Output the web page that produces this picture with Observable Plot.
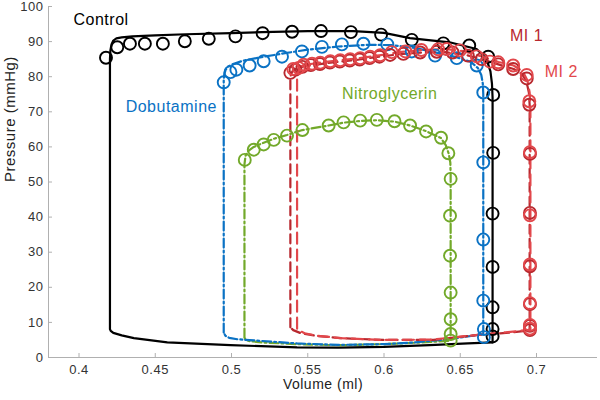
<!DOCTYPE html>
<html>
<head>
<meta charset="utf-8">
<script src="https://cdn.jsdelivr.net/npm/d3@7"></script>
<script src="https://cdn.jsdelivr.net/npm/@observablehq/plot@0.6"></script>
<style>
  html, body { margin: 0; padding: 0; background: #fff; }
  #chart svg { display: block; font-family: "Liberation Sans", Arial, Helvetica, sans-serif; }
</style>
</head>
<body>
<div id="chart"></div>
<script>
// ---- Tick values ----
const xTicks = [0.4, 0.45, 0.5, 0.55, 0.6, 0.65, 0.7];
const yTicks = [0, 10, 20, 30, 40, 50, 60, 70, 80, 90, 100];

// ---- Series names / colours ----
const seriesNames = ["Control", "Dobutamine", "Nitroglycerin", "MI 1", "MI 2"];
const seriesColors = ["#000000", "#0a72c4", "#72a92a", "#b8282e", "#e2474b"];

// ---- Model loops (lines) ----
const controlLineV = [0.4203,0.4203,0.4206,0.4213,0.4225,0.4245,0.428,0.435,0.45,0.47,0.5,0.52,0.55,0.58,0.6,0.617,0.643,0.6607,0.6672,0.6698,0.6708,0.6712,0.6712,0.655,0.63,0.6,0.57,0.543,0.4993,0.4579,0.436,0.428,0.4225,0.4208,0.4203];
const controlLineP = [8.1,85,87.5,89.2,90.3,90.9,91.2,91.5,91.8,92.1,92.4,92.7,93.0,93.0,92.5,91.0,89.8,87.9,85.1,81.5,78,74,4.3,4.0,3.5,3.0,2.8,2.9,3.5,4.3,5.5,6.3,7.0,7.6,8.1];

const dobuLineV = [0.4949,0.4949,0.4953,0.4962,0.4978,0.5015,0.508,0.52,0.535,0.55,0.57,0.59,0.605,0.62,0.635,0.648,0.657,0.6615,0.6638,0.6648,0.6651,0.6651,0.652,0.637,0.62,0.6,0.57,0.543,0.5168,0.5037,0.4985,0.496,0.4949];
const dobuLineP = [7.1,79,80.8,82.0,82.9,83.7,84.6,85.6,86.7,87.7,88.6,89.1,89.0,88.2,86.8,85.5,84.2,82.5,80.5,78,75,6.7,5.8,5.0,4.3,3.8,3.6,4.0,4.8,5.2,5.6,6.2,7.1];

const nitroLineV = [0.5085,0.5085,0.5092,0.5115,0.5146,0.5211,0.5277,0.5364,0.5465,0.5637,0.5735,0.5844,0.5953,0.6069,0.6171,0.6276,0.6374,0.6405,0.6425,0.6435,0.6437,0.6437,0.625,0.6,0.57,0.543,0.52,0.5115,0.5092,0.5085];
const nitroLineP = [5.7,55,57.5,59.0,60.0,61.2,62.3,63.4,64.8,66.1,66.9,67.4,67.6,67.2,66.1,64.5,62.5,60.5,58,55.5,52,4.8,4.3,3.8,3.5,3.8,4.3,4.7,5.1,5.7];

const mi1LineV = [0.5386,0.5386,0.539,0.5402,0.5425,0.548,0.558,0.571,0.584,0.597,0.61,0.625,0.64,0.652,0.664,0.675,0.685,0.6905,0.6935,0.695,0.6955,0.6955,0.6935,0.68,0.6608,0.6323,0.5996,0.5713,0.555,0.545,0.5405,0.5386];
const mi1LineP = [8.6,79.5,80.8,81.7,82.3,83.0,83.6,84.3,84.9,85.7,86.4,86.9,87.0,86.4,85.0,83.5,82.2,80.8,78.5,75.5,72,7.8,7.6,7.0,6.4,5.0,5.0,5.5,6.2,7.0,7.8,8.6];

const mi2LineV = [0.543,0.543,0.5434,0.5445,0.5465,0.55,0.558,0.571,0.584,0.597,0.61,0.625,0.64,0.652,0.664,0.675,0.685,0.691,0.694,0.6955,0.696,0.696,0.694,0.68,0.66,0.632,0.6,0.572,0.556,0.548,0.5445,0.543];
const mi2LineP = [8.2,80.5,81.8,82.6,83.1,83.5,84.0,84.7,85.3,86.1,87.0,87.6,87.9,87.3,85.8,84.2,83.2,81.5,79,75.5,72,8.0,7.8,7.2,6.4,5.1,5.0,5.5,6.2,6.9,7.6,8.2];

// ---- Measured points (circles) ----
const controlDotV = [0.4177,0.4251,0.4334,0.4432,0.455,0.4694,0.4851,0.5026,0.5204,0.5397,0.5587,0.5783,0.5981,0.6182,0.6389,0.6559,0.6683,0.6716,0.6716,0.6712,0.6712,0.6712,0.6712,0.6712];
const controlDotP = [85.4,88.4,89.4,89.4,89.4,90.1,90.8,91.5,92.4,92.8,93.0,92.7,92.0,90.5,89.5,88.9,85.7,74.8,58.3,41.0,25.8,14.3,8.1,6.0];

const dobuDotV = [0.4949,0.4993,0.5032,0.5119,0.5211,0.5331,0.5462,0.5593,0.5724,0.5865,0.6022,0.6182,0.6335,0.6477,0.6608,0.6651,0.6651,0.6651,0.6651,0.6655,0.6655];
const dobuDotP = [78.4,81.3,82.0,83.2,84.4,85.7,87.2,88.5,89.2,89.4,89.2,87.2,86.0,85.3,83.2,75.5,55.6,33.6,16.2,8.1,5.8];

const nitroDotV = [0.5087,0.5146,0.5211,0.5277,0.5364,0.5465,0.5637,0.5735,0.5844,0.5953,0.6069,0.6171,0.6276,0.6374,0.6422,0.6437,0.6433,0.6433,0.6437,0.6437,0.6437,0.6437];
const nitroDotP = [56.3,59.2,60.7,62.0,63.2,64.8,66.1,67.0,67.5,67.7,67.3,66.1,64.4,62.6,58.2,50.9,40.4,29.0,18.5,10.9,6.7,4.8];

const mi1DotV = [0.5386,0.542,0.5465,0.552,0.558,0.5645,0.571,0.5775,0.584,0.5905,0.597,0.604,0.6127,0.6237,0.6346,0.645,0.655,0.664,0.6749,0.6847,0.6936,0.6953,0.6957,0.6957,0.6957,0.6957,0.6957,0.6957];
const mi1DotP = [81.1,82.0,82.8,83.3,83.6,84.0,84.3,84.6,84.9,85.3,85.7,86.2,86.5,86.9,87.1,86.9,86.0,85.0,83.5,82.2,79.5,72.0,58.0,41.2,26.0,15.2,9.0,7.8];

const mi2DotV = [0.5405,0.544,0.5473,0.5528,0.5582,0.5648,0.5713,0.5778,0.5844,0.5909,0.5975,0.605,0.614,0.6245,0.6355,0.6411,0.6498,0.6608,0.6695,0.6749,0.6847,0.6936,0.6953,0.6957,0.6957,0.6957,0.6957,0.6957,0.6957];
const mi2DotP = [82.2,82.5,83.4,83.7,84.0,84.4,84.7,85.0,85.3,85.7,86.1,87.0,87.2,87.6,87.8,87.9,87.5,85.8,84.3,84.1,83.2,80.5,73.0,58.5,40.5,26.5,15.5,9.3,8.2];

// ---- Series labels (anchor position in data units) ----
const labelV = [0.3964, 0.4306, 0.5724, 0.6826, 0.7054];
const labelP = [96.3, 71.3, 75.2, 91.7, 81.5];

// ---- build tables ----
const zip = (V, P) => V.map((v, i) => ({v, p: P[i]}));
const lines = [
  {name: "Control", data: zip(controlLineV, controlLineP), dash: null},
  {name: "Nitroglycerin", data: zip(nitroLineV, nitroLineP), dash: "9,3,2,3"},
  {name: "Dobutamine", data: zip(dobuLineV, dobuLineP), dash: "9,3,2,3"},
  {name: "MI 1", data: zip(mi1LineV, mi1LineP), dash: "9,5"},
  {name: "MI 2", data: zip(mi2LineV, mi2LineP), dash: "11,6"}
];
const dots = [
  {name: "Control", data: zip(controlDotV, controlDotP)},
  {name: "Nitroglycerin", data: zip(nitroDotV, nitroDotP)},
  {name: "Dobutamine", data: zip(dobuDotV, dobuDotP)},
  {name: "MI 1", data: zip(mi1DotV, mi1DotP)},
  {name: "MI 2", data: zip(mi2DotV, mi2DotP)}
];
const colorOf = name => seriesColors[seriesNames.indexOf(name)];
const labels = seriesNames.map((name, i) => ({name, v: labelV[i], p: labelP[i]}));

const W = 600, H = 400, mL = 48, mR = 3, mT = 6, mB = 43;
const axisGray = "#b0b0b0";

const marks = [
  Plot.ruleY([0], {stroke: axisGray, strokeWidth: 1}),
  Plot.ruleX([0.38], {stroke: axisGray, strokeWidth: 1}),
  Plot.tickX(xTicks, {x: d => d, stroke: axisGray, insetTop: (H - mT - mB) - 4}),
  Plot.tickY(yTicks, {y: d => d, stroke: axisGray, insetRight: (W - mL - mR) - 4}),
  Plot.axisX({ticks: xTicks, tickSize: 0, tickPadding: 7, tickFormat: d => d3.format("~g")(d), label: null, fontSize: 13, fill: "#333"}),
  Plot.axisY({ticks: yTicks, tickSize: 0, tickPadding: 5, label: null, fontSize: 13, fill: "#333"}),
  Plot.text(["Volume (ml)"], {frameAnchor: "bottom", dy: 27, fontSize: 14, fill: "#222", lineAnchor: "middle"}),
  Plot.text(["Pressure (mmHg)"], {frameAnchor: "left", rotate: -90, dx: -38, fontSize: 15, fill: "#222", lineAnchor: "middle"})
];
for (const s of lines) {
  marks.push(Plot.line(s.data, {x: "v", y: "p", stroke: colorOf(s.name), strokeWidth: 2.2,
    strokeDasharray: s.dash, curve: "linear", strokeLinejoin: "round"}));
}
for (const s of dots) {
  marks.push(Plot.dot(s.data, {x: "v", y: "p", r: 6, stroke: colorOf(s.name), strokeWidth: 1.9, fill: "none"}));
}
marks.push(Plot.text(labels, {x: "v", y: "p", text: "name", fill: d => colorOf(d.name),
  textAnchor: "start", lineAnchor: "middle", fontSize: 16}));

const chart = Plot.plot({
  width: W, height: H,
  marginLeft: mL, marginRight: mR, marginTop: mT, marginBottom: mB,
  x: {domain: [0.38, 0.74]},
  y: {domain: [0, 100]},
  style: {fontFamily: '"Liberation Sans", Arial, Helvetica, sans-serif', letterSpacing: "0.5px", background: "#fff"},
  marks
});
document.getElementById("chart").appendChild(chart);
</script>
</body>
</html>
